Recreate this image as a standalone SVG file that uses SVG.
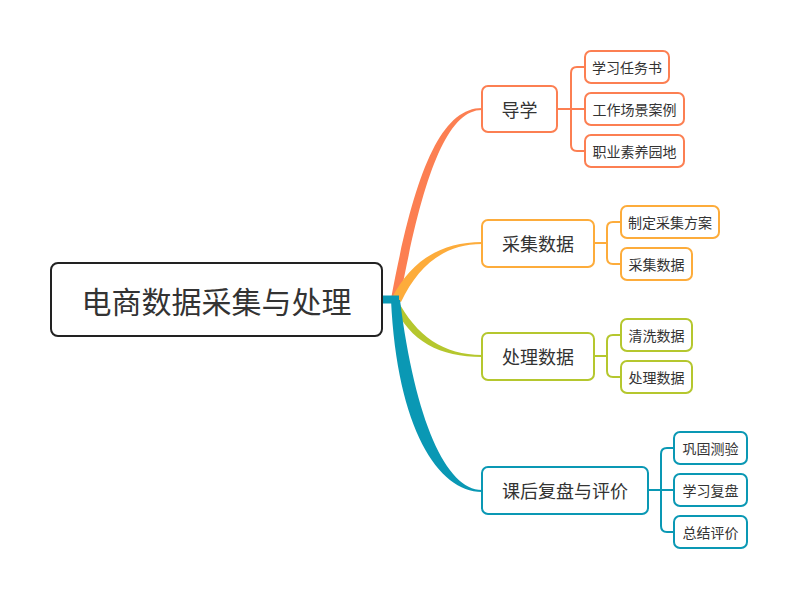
<svg xmlns="http://www.w3.org/2000/svg" width="796" height="599" viewBox="0 0 796 599">
<style>
text{font-family:"Noto Sans CJK SC","Noto Sans",sans-serif;fill:#333;text-anchor:middle;dominant-baseline:central}
.box{fill:#fff;stroke-width:2}
.t1{font-size:18px}
.t2{font-size:14px}
.br{fill:none;stroke-width:2}
.c1{stroke:#FC7F52}.f1{fill:#FC7F52}
.c2{stroke:#FDAC3B}.f2{fill:#FDAC3B}
.c3{stroke:#B5C72E}.f3{fill:#B5C72E}
.c4{stroke:#0A98B4}.f4{fill:#0A98B4}
</style>
<rect width="796" height="599" fill="#fff"/>
<g id="connectors">
  <path class="f1" d="M391,299 C414,175 440,108 482,108 L482,110 C446,110 422,180 400,299 Z"/>
  <path class="f2" d="M392,298 C410,262 440,242 482,242 L482,244 C444,244 418,266 401,302 Z"/>
  <path class="f3" d="M397,299 C416,336 444,355 482,355 L482,357 C440,357 410,342 393,304 Z"/>
  <path class="f4" d="M391,300 C397,428 438,492 482,492 L482,490 C446,490 415,420 400,300 Z"/>
  <rect class="f4" x="382" y="295.5" width="17" height="8"/>
  <path class="br c1" d="M557,109 H571 M585,67 H577 Q571,67 571,73 V145 Q571,151 577,151 H585 M571,109 H585"/>
  <path class="br c2" d="M594,243 H607 M621,222 H613 Q607,222 607,228 V258 Q607,264 613,264 H621"/>
  <path class="br c3" d="M594,356 H607 M621,335 H613 Q607,335 607,341 V371 Q607,377 613,377 H621"/>
  <path class="br c4" d="M648,490 H661 M674,448 H667 Q661,448 661,454 V526 Q661,532 667,532 H674 M661,490 H674"/>
</g>
<g id="root">
  <rect x="51" y="263" width="331" height="73" rx="7" fill="#fff" stroke="#222" stroke-width="2"/>
  <text x="216.5" y="299.5" font-size="30">电商数据采集与处理</text>
</g>
<g id="n1">
  <rect class="box c1" x="482" y="86" width="75" height="46" rx="6"/>
  <text class="t1" x="519.5" y="109">导学</text>
</g>
<g id="n1a">
  <rect class="box c1" x="585" y="51" width="84" height="32" rx="6"/>
  <text class="t2" x="627" y="67">学习任务书</text>
</g>
<g id="n1b">
  <rect class="box c1" x="585" y="93" width="99" height="32" rx="6"/>
  <text class="t2" x="634.5" y="109">工作场景案例</text>
</g>
<g id="n1c">
  <rect class="box c1" x="585" y="135" width="99" height="32" rx="6"/>
  <text class="t2" x="634.5" y="151">职业素养园地</text>
</g>
<g id="n2">
  <rect class="box c2" x="482" y="220" width="112" height="47" rx="6"/>
  <text class="t1" x="538" y="243">采集数据</text>
</g>
<g id="n2a">
  <rect class="box c2" x="621" y="206" width="98" height="32" rx="6"/>
  <text class="t2" x="670" y="222">制定采集方案</text>
</g>
<g id="n2b">
  <rect class="box c2" x="621" y="248" width="71" height="32" rx="6"/>
  <text class="t2" x="656.5" y="264">采集数据</text>
</g>
<g id="n3">
  <rect class="box c3" x="482" y="333" width="112" height="47" rx="6"/>
  <text class="t1" x="538" y="356">处理数据</text>
</g>
<g id="n3a">
  <rect class="box c3" x="621" y="319" width="71" height="32" rx="6"/>
  <text class="t2" x="656.5" y="335">清洗数据</text>
</g>
<g id="n3b">
  <rect class="box c3" x="621" y="361" width="71" height="32" rx="6"/>
  <text class="t2" x="656.5" y="377">处理数据</text>
</g>
<g id="n4">
  <rect class="box c4" x="482" y="467" width="166" height="47" rx="6"/>
  <text class="t1" x="565" y="490">课后复盘与评价</text>
</g>
<g id="n4a">
  <rect class="box c4" x="674" y="432" width="73" height="32" rx="6"/>
  <text class="t2" x="710.5" y="448">巩固测验</text>
</g>
<g id="n4b">
  <rect class="box c4" x="674" y="474" width="73" height="32" rx="6"/>
  <text class="t2" x="710.5" y="490">学习复盘</text>
</g>
<g id="n4c">
  <rect class="box c4" x="674" y="516" width="73" height="32" rx="6"/>
  <text class="t2" x="710.5" y="532">总结评价</text>
</g>
</svg>
